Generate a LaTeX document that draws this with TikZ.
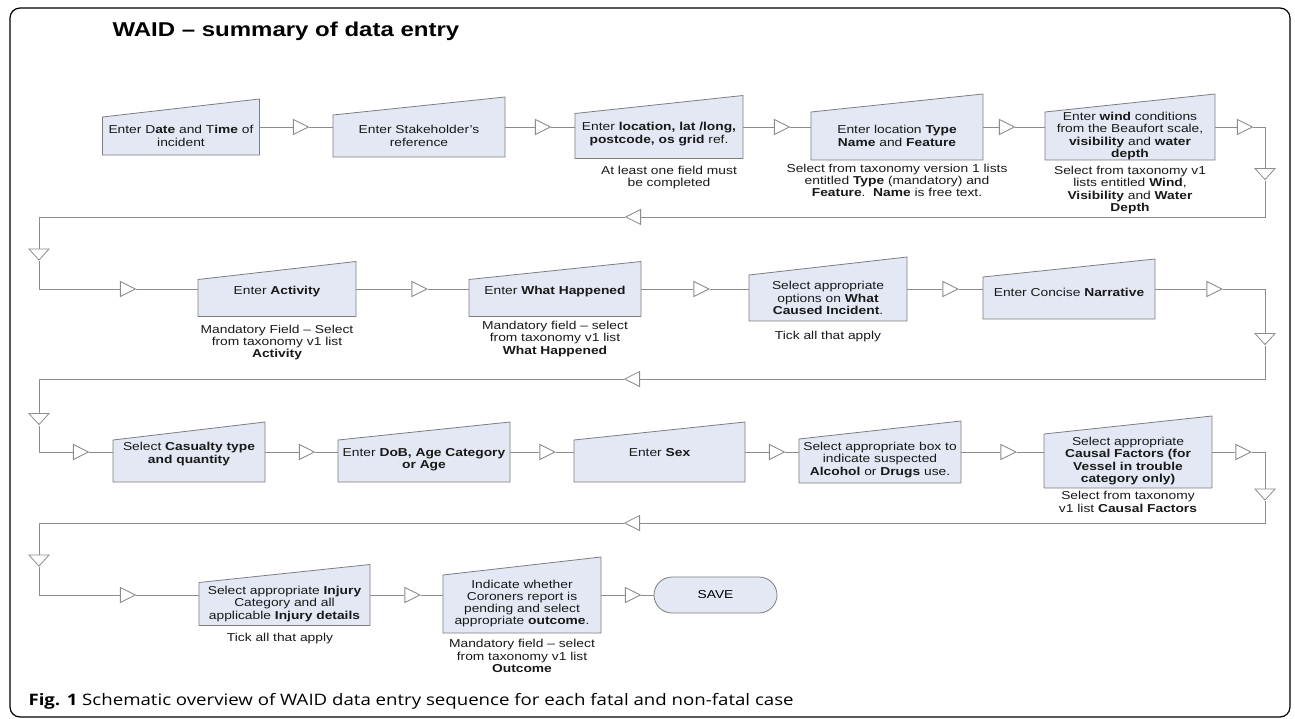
\documentclass[tikz,border=0pt]{standalone}
\usepackage{fontspec}
\setmainfont{Liberation Sans}[FakeStretch=1.2]
\newfontfamily\capfont{Open Sans}[FakeStretch=1.18]
\usepackage{xcolor}
\usepackage{tikz}
\usetikzlibrary{shapes.geometric}
\definecolor{boxfill}{RGB}{227,232,244}
\definecolor{boxline}{RGB}{125,125,125}
\definecolor{flowline}{RGB}{140,140,140}
\tikzset{
    inbox/.style = {rectangle, inner sep=0pt, outer sep=0pt, node contents={}},
    boxshape/.style = {draw=boxline, fill=boxfill, line width=0.8pt},
    boxtext/.style = {align=center, inner sep=0pt, text=black!90, font=\fontsize{11.5pt}{12.3pt}\selectfont},
    note/.style = {boxtext},
    tri/.style = {isosceles triangle, isosceles triangle stretches, draw=flowline, fill=white, line width=0.8pt,
        inner sep=0pt, minimum width=15pt, minimum height=15pt, node contents={}},
    tridown/.style = {tri, rotate=-90, minimum width=20pt, minimum height=11pt},
    trileft/.style = {tri, rotate=180},
    savebox/.style = {rectangle, rounded corners=18pt, draw=boxline, fill=boxfill, line width=0.8pt,
        minimum width=123pt, minimum height=36pt, inner sep=0pt, font=\fontsize{11.5pt}{12.3pt}\selectfont},
    flow/.style = {draw=flowline, line width=0.8pt},
}

\begin{document}
\begin{tikzpicture}[x=1pt, y=-1pt]
    \useasboundingbox (0,0) rectangle (1295,719);
    \draw[line width=1.2pt, rounded corners=10pt] (10,8) rectangle (1290,717);
    \node (title) at (109,37) [anchor=base west, font=\fontsize{20pt}{24pt}\selectfont\bfseries] {WAID – summary of data entry};

    % box outlines
    \node (b1) at (181,127) [inbox, minimum width=157pt, minimum height=56pt];
    \node (b2) at (419,127) [inbox, minimum width=172pt, minimum height=60pt];
    \node (b3) at (659,127) [inbox, minimum width=168pt, minimum height=63pt];
    \node (b4) at (897,127) [inbox, minimum width=172pt, minimum height=66pt];
    \node (b5) at (1130,127) [inbox, minimum width=170pt, minimum height=66pt];
    \node (b6) at (277,289) [inbox, minimum width=158pt, minimum height=55pt];
    \node (b7) at (555,289) [inbox, minimum width=172pt, minimum height=55pt];
    \node (b8) at (828,289) [inbox, minimum width=158pt, minimum height=64pt];
    \node (b9) at (1069,289) [inbox, minimum width=172pt, minimum height=60pt];
    \node (b10) at (189,452) [inbox, minimum width=152pt, minimum height=60pt];
    \node (b11) at (424,452) [inbox, minimum width=172pt, minimum height=60pt];
    \node (b12) at (659.5,452) [inbox, minimum width=171pt, minimum height=60pt];
    \node (b13) at (880,452) [inbox, minimum width=162pt, minimum height=62pt];
    \node (b14) at (1128,452) [inbox, minimum width=168pt, minimum height=72pt];
    \node (b15) at (284.5,595) [inbox, minimum width=171pt, minimum height=61pt];
    \node (b16) at (522,595) [inbox, minimum width=158pt, minimum height=76pt];
    \foreach \i in {1,...,16}
        \filldraw[boxshape] (b\i.south west) -- (b\i.south east) -- (b\i.north east) -- ([yshift=-18pt]b\i.north west) -- cycle;
    \node (save) at (715.5,595) [savebox] {SAVE};

    % box texts
    \node (b1t) at (181,136) [boxtext] {Enter D\textbf{ate} and T\textbf{ime} of\\incident};
    \node (b2t) at (419,136) [boxtext] {Enter Stakeholder's\\reference};
    \node (b3t) at (659,134) [boxtext] {Enter \textbf{location, lat /long,}\\\textbf{postcode, os grid} ref.};
    \node (b4t) at (897,136) [boxtext] {Enter location \textbf{Type}\\\textbf{Name} and \textbf{Feature}};
    \node (b5t) at (1130,136) [boxtext] {Enter \textbf{wind} conditions\\from the Beaufort scale,\\\textbf{visibility} and \textbf{water}\\\textbf{depth}};
    \node (b6t) at (277,292) [boxtext] {Enter \textbf{Activity}};
    \node (b7t) at (555,292) [boxtext] {Enter \textbf{What Happened}};
    \node (b8t) at (828,298) [boxtext] {Select appropriate\\options on \textbf{What}\\\textbf{Caused Incident}.};
    \node (b9t) at (1069,292) [boxtext] {Enter Concise \textbf{Narrative}};
    \node (b10t) at (189,454) [boxtext] {Select \textbf{Casualty type}\\\textbf{and quantity}};
    \node (b11t) at (424,459.5) [boxtext] {Enter \textbf{DoB, Age Category}\\\textbf{or Age}};
    \node (b12t) at (659.5,453) [boxtext] {Enter \textbf{Sex}};
    \node (b13t) at (880,460) [boxtext] {Select appropriate box to\\indicate suspected\\\textbf{Alcohol} or \textbf{Drugs} use.};
    \node (b14t) at (1128,461) [boxtext] {Select appropriate\\\textbf{Causal Factors (for}\\\textbf{Vessel in trouble}\\\textbf{category only)}};
    \node (b15t) at (284.5,604) [boxtext] {Select appropriate \textbf{Injury}\\Category and all\\applicable \textbf{Injury details}};
    \node (b16t) at (522,603.5) [boxtext] {Indicate whether\\Coroners report is\\pending and select\\appropriate \textbf{outcome}.};

    % notes under the boxes
    \node (n3) at (669,177.5) [note] {At least one field must\\be completed};
    \node (n4) at (897,180.5) [note] {Select from taxonomy version 1 lists\\entitled \textbf{Type} (mandatory) and\\\textbf{Feature}.\ \ \textbf{Name} is free text.};
    \node (n5) at (1130,190) [note] {Select from taxonomy v1\\lists entitled \textbf{Wind},\\\textbf{Visibility} and \textbf{Water}\\\textbf{Depth}};
    \node (n6) at (277,342.5) [note] {Mandatory Field – Select\\from taxonomy v1 list\\\textbf{Activity}};
    \node (n7) at (555,339) [note] {Mandatory field – select\\from taxonomy v1 list\\\textbf{What Happened}};
    \node (n8) at (828,337) [note] {Tick all that apply};
    \node (n14) at (1128,502) [note] {Select from taxonomy\\v1 list \textbf{Causal Factors}};
    \node (n15) at (280,639) [note] {Tick all that apply};
    \node (n16) at (522,656) [note] {Mandatory field – select\\from taxonomy v1 list\\\textbf{Outcome}};

    % flow markers and corners
    \node (t1) at (298,127) [tri];
    \node (t2) at (540,127) [tri];
    \node (t3) at (779,127) [tri];
    \node (t4) at (1004,127) [tri];
    \node (t5) at (1242,127) [tri];
    \coordinate (c1) at (1265,127);
    \node (t6) at (1265,173) [tridown];
    \coordinate (c2) at (1265,217);
    \node (t7) at (636,217) [trileft];
    \coordinate (c3) at (39,217);
    \node (t8) at (39,253.5) [tridown];
    \coordinate (c4) at (39,289);
    \node (t9) at (125,289) [tri];
    \node (t10) at (416.5,289) [tri];
    \node (t11) at (698.5,289) [tri];
    \node (t12) at (947.5,289) [tri];
    \node (t13) at (1211.5,289) [tri];
    \coordinate (c5) at (1265,289);
    \node (t14) at (1265,338) [tridown];
    \coordinate (c6) at (1265,379);
    \node (t15) at (635,379) [trileft];
    \coordinate (c7) at (39,379);
    \node (t16) at (39,418) [tridown];
    \coordinate (c8) at (39,452);
    \node (t17) at (78,452) [tri];
    \node (t18) at (304,452) [tri];
    \node (t19) at (544.5,452) [tri];
    \node (t20) at (774,452) [tri];
    \node (t21) at (1005.5,452) [tri];
    \node (t22) at (1240.5,452) [tri];
    \coordinate (c9) at (1265,452);
    \node (t23) at (1265,493.5) [tridown];
    \coordinate (c10) at (1265,523);
    \node (t24) at (635,523) [trileft];
    \coordinate (c11) at (39,523);
    \node (t25) at (39,559.5) [tridown];
    \coordinate (c12) at (39,595);
    \node (t26) at (125,595) [tri];
    \node (t27) at (409.5,595) [tri];
    \node (t28) at (630,595) [tri];

    % connectors
    \draw[flow] (b1) -- (t1) -- (b2) -- (t2) -- (b3) -- (t3) -- (b4) -- (t4) -- (b5) -- (t5) -- (c1) -- (t6) -- (c2) -- (t7) -- (c3) -- (t8) -- (c4) -- (t9) -- (b6);
    \draw[flow] (b6) -- (t10) -- (b7) -- (t11) -- (b8) -- (t12) -- (b9) -- (t13) -- (c5) -- (t14) -- (c6) -- (t15) -- (c7) -- (t16) -- (c8) -- (t17) -- (b10);
    \draw[flow] (b10) -- (t18) -- (b11) -- (t19) -- (b12) -- (t20) -- (b13) -- (t21) -- (b14) -- (t22) -- (c9) -- (t23) -- (c10) -- (t24) -- (c11) -- (t25) -- (c12) -- (t26) -- (b15);
    \draw[flow] (b15) -- (t27) -- (b16) -- (t28) -- (save);

    \node (caption) at (25,705) [anchor=base west, font=\capfont\fontsize{15.8pt}{18pt}\selectfont] {\textbf{Fig. 1} Schematic overview of WAID data entry sequence for each fatal and non-fatal case};
\end{tikzpicture}
\end{document}
